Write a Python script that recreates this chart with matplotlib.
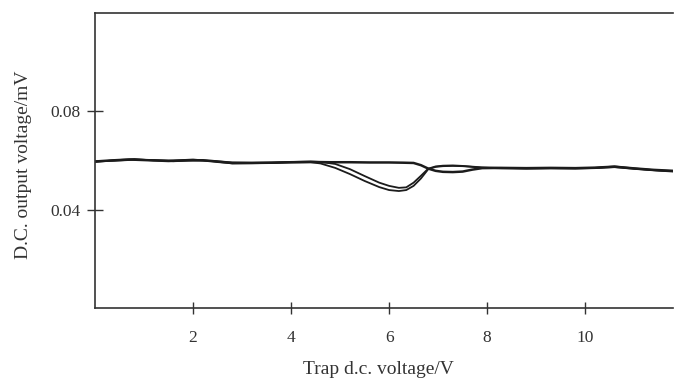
import matplotlib
matplotlib.use('Agg')
import matplotlib.pyplot as plt

# ///////////////////////////////////////////////////////////////// data

# trace that stays flat through the trap region
X_FLAT = [0, 0.3, 0.7, 1.1, 1.5, 1.9, 2.2, 2.5, 2.8, 3.2, 3.6, 4.0, 4.4, 4.8, 5.2, 5.6,
          6.0, 6.3, 6.5, 6.65, 6.8, 6.95, 7.1, 7.3, 7.5, 7.7, 7.9, 8.3, 8.8, 9.3, 9.8,
          10.2, 10.6, 11.0, 11.4, 11.8]
Y_FLAT = [0.0596, 0.0600, 0.0604, 0.0601, 0.0598, 0.0601, 0.0601, 0.0595, 0.0590, 0.0590,
          0.0591, 0.0593, 0.0594, 0.0593, 0.0593, 0.0592, 0.0592, 0.0591, 0.0590, 0.0581,
          0.0567, 0.0558, 0.0554, 0.0553, 0.0555, 0.0563, 0.0569, 0.0570, 0.0569, 0.0570,
          0.0569, 0.0571, 0.0575, 0.0568, 0.0562, 0.0558]

# traces with a dip near 6 V
X_DIP = [0, 0.4, 0.8, 1.2, 1.6, 2.0, 2.4, 2.8, 3.2, 3.6, 4.0, 4.4, 4.6, 4.9, 5.2, 5.5,
         5.8, 6.0, 6.2, 6.35, 6.5, 6.65, 6.8, 6.95, 7.1, 7.3, 7.5, 7.7, 7.9, 8.3, 8.8,
         9.3, 9.8, 10.2, 10.6, 11.0, 11.4, 11.8]
Y_DIP_DEEP = [0.0594, 0.0601, 0.0606, 0.0600, 0.0600, 0.0604, 0.0597, 0.0588, 0.0589,
              0.0590, 0.0592, 0.0593, 0.0588, 0.0570, 0.0545, 0.0517, 0.0492, 0.0480,
              0.0476, 0.0480, 0.0497, 0.0527, 0.0565, 0.0574, 0.0577, 0.0578, 0.0577,
              0.0574, 0.0571, 0.0568, 0.0567, 0.0568, 0.0567, 0.0569, 0.0573, 0.0566,
              0.0560, 0.0555]
Y_DIP_SHALLOW = [0.0597, 0.0599, 0.0603, 0.0602, 0.0597, 0.0600, 0.0599, 0.0592, 0.0591,
                 0.0592, 0.0594, 0.0596, 0.0594, 0.0586, 0.0565, 0.0537, 0.0510, 0.0497,
                 0.0489, 0.0491, 0.0510, 0.0538, 0.0567, 0.0576, 0.0579, 0.0580, 0.0578,
                 0.0575, 0.0572, 0.0570, 0.0568, 0.0569, 0.0569, 0.0570, 0.0576, 0.0568,
                 0.0561, 0.0557]

X_TICKS = [2, 4, 6, 8, 10]
Y_TICKS = [0.04, 0.08]
Y_TICK_LABELS = ['0.04', '0.08']

# ///////////////////////////////////////////////////////////////// figure

plt.rcParams['font.family'] = ['Liberation Serif', 'DejaVu Serif']

fig = plt.figure(figsize=(6.74, 3.86), dpi=100)
ax = fig.add_axes([0.141, 0.2013, 0.858, 0.7658])

line_color = '#1c1c1c'
ax.plot(X_FLAT, Y_FLAT, color=line_color, lw=1.8)
ax.plot(X_DIP, Y_DIP_DEEP, color=line_color, lw=1.3)
ax.plot(X_DIP, Y_DIP_SHALLOW, color=line_color, lw=1.3)

ax.set_xlim(0, 11.8)
ax.set_ylim(0, 0.12)
ax.set_xticks(X_TICKS)
ax.set_xticklabels([str(t) for t in X_TICKS])
ax.set_yticks(Y_TICKS)
ax.set_yticklabels(Y_TICK_LABELS)

for side in ['left', 'bottom', 'top']:
    ax.spines[side].set_linewidth(1.2)
    ax.spines[side].set_color('#333333')
ax.spines['right'].set_visible(False)

ax.tick_params(axis='x', direction='inout', length=9, width=1.0, color='#333333',
               labelsize=12.5, pad=11, colors='#333333')
ax.tick_params(axis='y', direction='inout', length=11, width=1.0, color='#333333',
               labelsize=12.5, pad=5, colors='#333333')

ax.set_xlabel('Trap d.c. voltage/V', fontsize=14, color='#333333')
ax.set_ylabel('D.C. output voltage/mV', fontsize=14, color='#333333')
ax.xaxis.set_label_coords(0.49, -0.178)
ax.yaxis.set_label_coords(-0.109, 0.485)

fig.savefig('out.png', dpi=100)
